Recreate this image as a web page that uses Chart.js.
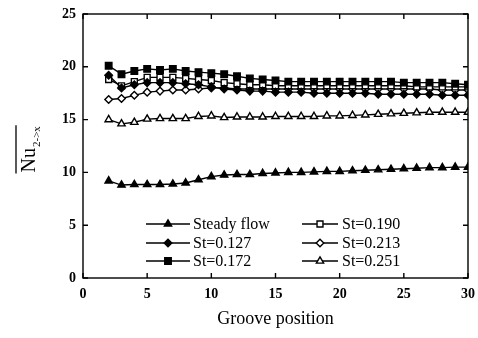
<!DOCTYPE html>
<html>
<head>
<meta charset="utf-8">
<script src="https://cdn.jsdelivr.net/npm/chart.js@4"></script>
<style>
  html, body { margin: 0; padding: 0; background: #fff; }
  #wrap { width: 478px; height: 338px; }
</style>
</head>
<body>
<div id="wrap"><canvas id="c" width="478" height="338"></canvas></div>
<script>
// Groove positions 2..30
const groovePositions = [2,3,4,5,6,7,8,9,10,11,12,13,14,15,16,17,18,19,20,21,22,23,24,25,26,27,28,29,30];

const steadyFlow = [9.2,8.8,8.85,8.85,8.85,8.9,9.0,9.3,9.6,9.75,9.8,9.8,9.9,9.95,10.0,10.0,10.05,10.1,10.1,10.15,10.2,10.25,10.3,10.35,10.4,10.45,10.45,10.5,10.5];
const st0127 = [19.2,18.0,18.3,18.5,18.5,18.5,18.4,18.3,18.1,17.9,17.8,17.7,17.7,17.6,17.6,17.6,17.5,17.5,17.5,17.5,17.5,17.4,17.4,17.4,17.4,17.4,17.3,17.3,17.3];
const st0172 = [20.1,19.3,19.6,19.8,19.7,19.8,19.6,19.5,19.4,19.3,19.1,18.9,18.8,18.7,18.6,18.6,18.6,18.6,18.6,18.6,18.6,18.6,18.6,18.5,18.5,18.5,18.5,18.4,18.3];
const st0190 = [18.8,18.2,18.6,19.0,19.0,19.0,18.9,18.8,18.7,18.5,18.4,18.3,18.3,18.2,18.2,18.2,18.2,18.2,18.2,18.2,18.2,18.2,18.2,18.2,18.1,18.1,18.1,18.1,18.1];
const st0213 = [16.9,17.0,17.3,17.6,17.7,17.8,17.8,17.9,18.0,18.0,17.9,17.9,17.9,17.9,17.9,17.9,17.9,17.9,17.9,17.9,17.9,17.9,17.9,17.9,17.9,17.9,17.8,17.8,17.8];
const st0251 = [15.0,14.6,14.75,15.05,15.1,15.1,15.1,15.3,15.35,15.2,15.25,15.25,15.25,15.3,15.3,15.3,15.3,15.35,15.35,15.4,15.45,15.5,15.55,15.6,15.65,15.7,15.7,15.7,15.7];

const xTicks = [0,5,10,15,20,25,30];
const yTicks = [0,5,10,15,20,25];

const SERIF = '"Liberation Serif", "DejaVu Serif", serif';

function pts(vals) {
  return vals.map((v, i) => ({ x: groovePositions[i], y: v }));
}

function series(label, vals, style, radius, filled) {
  return {
    label,
    data: pts(vals),
    borderColor: '#000',
    borderWidth: 1.4,
    pointStyle: style,
    pointRadius: radius,
    pointBorderWidth: 1.4,
    pointBorderColor: '#000',
    pointBackgroundColor: filled ? '#000' : '#fff',
    tension: 0,
    fill: false
  };
}

const datasets = [
  series('Steady flow', steadyFlow, 'triangle', 4.2, true),
  series('St=0.127', st0127, 'rectRot', 3.8, true),
  series('St=0.172', st0172, 'rect', 4.6, true),
  series('St=0.190', st0190, 'rect', 4.2, false),
  series('St=0.213', st0213, 'rectRot', 3.8, false),
  series('St=0.251', st0251, 'triangle', 4.2, false)
];

// Frame, inward ticks on all four sides, the two-column legend and the y title
const decorations = {
  id: 'decorations',
  afterDraw(chart) {
    const { ctx, chartArea: a, scales } = chart;
    const xs = scales.x, ys = scales.y;
    ctx.save();
    ctx.strokeStyle = '#000';
    ctx.lineWidth = 1.4;
    ctx.strokeRect(a.left, a.top, a.right - a.left, a.bottom - a.top);
    const t = 5;
    ctx.beginPath();
    xTicks.forEach(v => {
      const px = xs.getPixelForValue(v);
      ctx.moveTo(px, a.bottom); ctx.lineTo(px, a.bottom - t);
      ctx.moveTo(px, a.top); ctx.lineTo(px, a.top + t);
    });
    yTicks.forEach(v => {
      const py = ys.getPixelForValue(v);
      ctx.moveTo(a.left, py); ctx.lineTo(a.left + t, py);
      ctx.moveTo(a.right, py); ctx.lineTo(a.right - t, py);
    });
    ctx.stroke();

    // legend
    const cols = [
      { x0: 146, x1: 190, mx: 168, tx: 193 },
      { x0: 302, x1: 338, mx: 320, tx: 342 }
    ];
    const rows = [224, 243, 261];
    ctx.font = '16px ' + SERIF;
    ctx.textBaseline = 'middle';
    ctx.textAlign = 'left';
    chart.data.datasets.forEach((ds, i) => {
      const c = cols[Math.floor(i / 3)];
      const y = rows[i % 3];
      ctx.strokeStyle = '#000';
      ctx.lineWidth = 1.4;
      ctx.beginPath();
      ctx.moveTo(c.x0, y); ctx.lineTo(c.x1, y);
      ctx.stroke();
      ctx.fillStyle = ds.pointBackgroundColor;
      ctx.strokeStyle = '#000';
      ctx.lineWidth = ds.pointBorderWidth;
      Chart.helpers.drawPoint(ctx, {
        pointStyle: ds.pointStyle,
        radius: ds.pointRadius,
        rotation: 0,
        borderWidth: ds.pointBorderWidth
      }, c.mx, y);
      ctx.fillStyle = '#000';
      ctx.fillText(ds.label, c.tx, y + 1);
    });

    // y-axis title: overlined Nu with subscript 2->x, rotated
    ctx.translate(35, 148);
    ctx.rotate(-Math.PI / 2);
    ctx.fillStyle = '#000';
    ctx.textBaseline = 'alphabetic';
    ctx.textAlign = 'left';
    ctx.font = '20px ' + SERIF;
    const nuW = ctx.measureText('Nu').width;
    const start = -nuW;
    ctx.fillText('Nu', start, 0);
    ctx.font = '11px ' + SERIF;
    const subW = ctx.measureText('2->x').width;
    ctx.fillText('2->x', 1, 5);
    ctx.lineWidth = 1.3;
    ctx.beginPath();
    ctx.moveTo(start - 1, -19);
    ctx.lineTo(1 + subW + 1, -19);
    ctx.stroke();
    ctx.restore();
  }
};

new Chart(document.getElementById('c'), {
  type: 'line',
  data: { datasets },
  options: {
    responsive: false,
    animation: false,
    devicePixelRatio: 1,
    layout: { padding: { top: 14, right: 10, left: 0, bottom: 0 } },
    plugins: { legend: { display: false }, tooltip: { enabled: false } },
    scales: {
      x: {
        type: 'linear',
        min: 0, max: 30,
        grid: { display: false, drawTicks: false },
        border: { display: false },
        afterBuildTicks: s => { s.ticks = xTicks.map(v => ({ value: v })); },
        afterFit: s => { s.height = 60; s.paddingLeft = 0; s.paddingRight = 0; },
        ticks: {
          color: '#000',
          padding: 8,
          font: { family: SERIF, size: 14, weight: 'bold' }
        },
        title: {
          display: true,
          text: 'Groove position',
          color: '#000',
          padding: { top: 2, bottom: 8 },
          font: { family: SERIF, size: 18 }
        }
      },
      y: {
        min: 0, max: 25,
        grid: { display: false, drawTicks: false },
        border: { display: false },
        afterBuildTicks: s => { s.ticks = yTicks.map(v => ({ value: v })); },
        afterFit: s => { s.width = 83; s.paddingTop = 0; s.paddingBottom = 0; },
        ticks: {
          color: '#000',
          padding: 7,
          font: { family: SERIF, size: 14, weight: 'bold' }
        }
      }
    }
  },
  plugins: [decorations]
});
</script>
</body>
</html>
